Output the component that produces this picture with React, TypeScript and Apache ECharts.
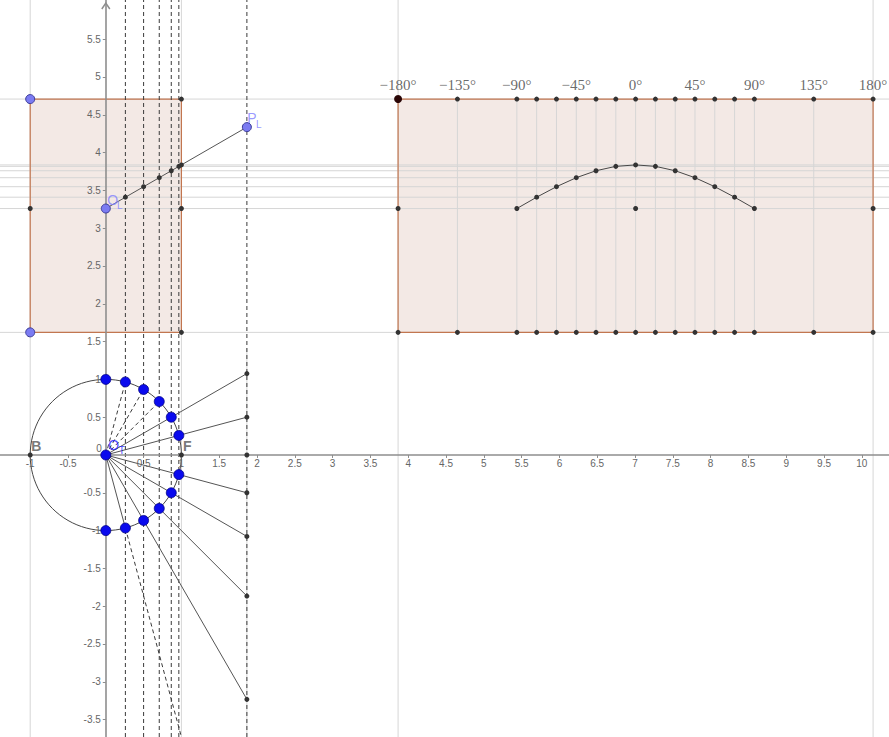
import React, { useEffect, useRef } from "react";
import * as echarts from "echarts";

// Visible window of the drawing plane (equal scale on both axes)
const X_MIN = -1.3995;
const X_MAX = 10.3595;
const Y_MIN = -3.7305;
const Y_MAX = 6.0185;

// Axis tick labels
const xTickValues = [-1, -0.5, 0.5, 1, 1.5, 2, 2.5, 3, 3.5, 4, 4.5, 5, 5.5, 6, 6.5, 7, 7.5, 8, 8.5, 9, 9.5, 10];
const yTickValues = [-3.5, -3, -2.5, -2, -1.5, -1, -0.5, 0.5, 1, 1.5, 2, 2.5, 3, 3.5, 4, 4.5, 5, 5.5];

// Points on the unit circle every 15° from 90° down to -90°
const circleX = [0, 0.259, 0.5, 0.707, 0.866, 0.966, 1, 0.966, 0.866, 0.707, 0.5, 0.259, 0];
const circleY = [1, 0.966, 0.866, 0.707, 0.5, 0.259, 0, -0.259, -0.5, -0.707, -0.866, -0.966, -1];

// Projection line x = 1.866 and the heights where the rays hit it
const projX = 1.866;
const projY = [1.077, 0.5, 0, -0.5, -1.077, -1.866, -3.232];

// Left frame and the sloped line O_L -> P_L
const frameTop = 4.708;
const frameBottom = 1.622;
const frameMid = 3.26;
const leftFrameX = [-1, 1];
const oL = [0, 3.26];
const pL = [1.866, 4.337];
const slopeX = [0.259, 0.5, 0.707, 0.866, 0.966, 1.0];
const slopeY = [3.41, 3.549, 3.668, 3.76, 3.818, 3.837];

// Right frame: angle columns (degrees) and their x positions
const angleDeg = [-180, -135, -90, -75, -60, -45, -30, -15, 0, 15, 30, 45, 60, 75, 90, 135, 180];
const angleX = [3.866, 4.651, 5.437, 5.699, 5.961, 6.223, 6.484, 6.746, 7.008, 7.27, 7.532, 7.793, 8.055, 8.317, 8.579, 9.364, 10.149];
const degLabelAngles = [-180, -135, -90, -45, 0, 45, 90, 135, 180];
const degLabels = ["\u2212180\u00b0", "\u2212135\u00b0", "\u221290\u00b0", "\u221245\u00b0", "0\u00b0", "45\u00b0", "90\u00b0", "135\u00b0", "180\u00b0"];

// Curve in the right frame, from -90° to 90°
const curveX = [5.437, 5.699, 5.961, 6.223, 6.484, 6.746, 7.008, 7.27, 7.532, 7.793, 8.055, 8.317, 8.579];
const curveY = [3.26, 3.41, 3.549, 3.668, 3.76, 3.818, 3.837, 3.818, 3.76, 3.668, 3.549, 3.41, 3.26];

// Horizontal guide heights that run across the whole plane
const guideY = [frameTop, 3.837, 3.818, 3.76, 3.668, 3.549, 3.41, 3.26, frameBottom];
const guideX = [-1, 1, 3.866, 10.149];
const dashedX = [0.259, 0.5, 0.707, 0.866, 0.966, 1.866];

const AXIS_COLOR = "#8e8e8e";
const GUIDE = "#d6d6d6";
const DARK = "#474747";
const SANS = "Liberation Sans, Arial, sans-serif";

function segRender(style: any) {
  return (_p: any, api: any) => {
    const a = api.coord([api.value(0), api.value(1)]);
    const b = api.coord([api.value(2), api.value(3)]);
    return { type: "line", shape: { x1: a[0], y1: a[1], x2: b[0], y2: b[1] }, style };
  };
}

function rectRender(style: any) {
  return (_p: any, api: any) => {
    const a = api.coord([api.value(0), api.value(3)]);
    const b = api.coord([api.value(2), api.value(1)]);
    return {
      type: "rect",
      shape: { x: a[0], y: a[1], width: b[0] - a[0], height: b[1] - a[1] },
      style,
    };
  };
}

export default function App() {
  const ref = useRef<HTMLDivElement>(null);

  useEffect(() => {
    if (!ref.current) return;
    const chart = echarts.init(ref.current, null, { renderer: "svg" });

    const frames = [
      [leftFrameX[0], frameBottom, leftFrameX[1], frameTop],
      [angleX[0], frameBottom, angleX[angleX.length - 1], frameTop],
    ];

    const guides: number[][] = [];
    guideY.forEach((y) => guides.push([X_MIN, y, X_MAX, y]));
    guideX.forEach((x) => guides.push([x, Y_MIN, x, Y_MAX]));
    angleX.slice(1, -1).forEach((x) => guides.push([x, frameBottom, x, frameTop]));
    guides.push([projX, 1.415, projX, Y_MIN]);

    const dashed: number[][] = [];
    dashedX.forEach((x) => dashed.push([x, Y_MIN, x, Y_MAX]));
    [1, 2, 3].forEach((i) => dashed.push([0, 0, circleX[i], circleY[i]]));
    dashed.push([circleX[11], circleY[11], 1.0, Y_MIN]);

    const solid: number[][] = [];
    projY.forEach((y) => {
      if (y !== 0) solid.push([0, 0, projX, y]);
    });
    solid.push([0, 0, circleX[11], circleY[11]]);
    solid.push([oL[0], oL[1], pL[0], pL[1]]);

    const blackPts: number[][] = [];
    angleX.forEach((x, i) => {
      if (i > 0) blackPts.push([x, frameTop]);
      blackPts.push([x, frameBottom]);
    });
    blackPts.push([angleX[0], frameMid], [angleX[8], frameMid], [angleX[16], frameMid]);
    curveX.forEach((x, i) => blackPts.push([x, curveY[i]]));
    blackPts.push([1, frameTop], [1, frameMid], [1, frameBottom], [-1, frameMid]);
    slopeX.forEach((x, i) => blackPts.push([x, slopeY[i]]));
    projY.forEach((y) => blackPts.push([projX, y]));
    blackPts.push([-1, 0], [1, 0]);

    const bluePts: number[][] = circleX
      .map((x, i) => [x, circleY[i]])
      .filter((_, i) => i !== 6);
    bluePts.push([0, 0]);

    const purplePts = [[-1, frameTop], [-1, frameBottom], oL, pL];

    const degData = degLabelAngles.map((a, i) => ({
      value: [angleX[angleDeg.indexOf(a)], frameTop],
      label: { formatter: degLabels[i] },
    }));

    // point names: main letter and subscript are separate labels
    const nameMain = [
      { value: [-1, 0], label: { formatter: "B", offset: [6, -9], color: "#555", fontWeight: "bold" } },
      { value: [1, 0], label: { formatter: "F", offset: [6, -9], color: "#555", fontWeight: "bold" } },
      { value: [0, 0], label: { formatter: "O", offset: [8, -10], color: "#1a1aff" } },
      { value: oL, label: { formatter: "O", offset: [7, -9], color: "#8080ff" } },
      { value: pL, label: { formatter: "P", offset: [5, -9], color: "#8080ff" } },
    ];
    const nameSub = [
      { value: [0, 0], label: { formatter: "T", offset: [16, -4], color: "#1a1aff" } },
      { value: oL, label: { formatter: "L", offset: [14, -3], color: "#8080ff" } },
      { value: pL, label: { formatter: "L", offset: [12, -3], color: "#8080ff" } },
    ];

    const axisLabelStyle = { color: "#666", fontSize: 10, fontFamily: SANS };

    const option: any = {
      animation: false,
      backgroundColor: "#ffffff",
      grid: { left: 0, right: 0, top: 0, bottom: 0, containLabel: false, outerBoundsMode: "none" },
      xAxis: {
        type: "value",
        z: 5,
        min: X_MIN,
        max: X_MAX,
        position: "bottom",
        offset: 0,
        axisLine: { show: true, onZero: false, lineStyle: { color: AXIS_COLOR, width: 1.6 } },
        axisTick: { show: true, customValues: xTickValues, length: 3, lineStyle: { color: AXIS_COLOR } },
        axisLabel: { ...axisLabelStyle, customValues: xTickValues, margin: 4 },
        splitLine: { show: false },
      },
      yAxis: {
        type: "value",
        z: 5,
        min: Y_MIN,
        max: Y_MAX,
        position: "left",
        offset: 0,
        axisLine: { show: true, onZero: false, lineStyle: { color: AXIS_COLOR, width: 1.6 } },
        axisTick: { show: true, customValues: yTickValues, length: 3, lineStyle: { color: AXIS_COLOR } },
        axisLabel: { ...axisLabelStyle, customValues: yTickValues, margin: 5 },
        splitLine: { show: false },
      },
      series: [
        {
          type: "custom",
          name: "frame fill",
          z: 1,
          silent: true,
          renderItem: rectRender({ fill: "#f3e9e5", stroke: "none" }),
          data: frames,
        },
        {
          type: "custom",
          name: "guides",
          z: 2,
          silent: true,
          renderItem: segRender({ stroke: GUIDE, lineWidth: 1 }),
          data: guides,
        },
        {
          type: "custom",
          name: "frame border",
          z: 3,
          silent: true,
          renderItem: rectRender({ fill: "none", stroke: "#c27650", lineWidth: 1.2 }),
          data: frames,
        },
        {
          type: "custom",
          name: "circle",
          z: 4,
          silent: true,
          renderItem: (_p: any, api: any) => {
            const c = api.coord([api.value(0), api.value(1)]);
            const r = api.size([api.value(2), api.value(2)])[0];
            return { type: "circle", shape: { cx: c[0], cy: c[1], r }, style: { fill: "none", stroke: DARK, lineWidth: 1 } };
          },
          data: [[0, 0, 1]],
        },
        {
          type: "custom",
          name: "dashed",
          z: 4,
          silent: true,
          renderItem: segRender({ stroke: "#3a3a3a", lineWidth: 1, lineDash: [4, 3] }),
          data: dashed,
        },
        {
          type: "custom",
          name: "rays",
          z: 4,
          silent: true,
          renderItem: segRender({ stroke: "#555", lineWidth: 1 }),
          data: solid,
        },
        {
          type: "line",
          name: "curve",
          z: 6,
          symbol: "none",
          silent: true,
          lineStyle: { color: DARK, width: 1 },
          data: curveX.map((x, i) => [x, curveY[i]]),
        },
        {
          type: "scatter",
          name: "points",
          z: 7,
          symbolSize: 5,
          silent: true,
          itemStyle: { color: "#333", opacity: 1 },
          data: blackPts,
        },
        {
          type: "scatter",
          name: "start",
          z: 7,
          symbolSize: 8,
          silent: true,
          itemStyle: { color: "#2a0606", opacity: 1 },
          data: [[angleX[0], frameTop]],
        },
        {
          type: "scatter",
          name: "circle points",
          z: 7,
          symbolSize: 10,
          silent: true,
          itemStyle: { color: "#0a0aee", borderColor: "#000088", borderWidth: 0.8, opacity: 1 },
          data: bluePts,
        },
        {
          type: "scatter",
          name: "free points",
          z: 7,
          symbolSize: 9,
          silent: true,
          itemStyle: { color: "#7b7bf2", borderColor: "#3d3d99", borderWidth: 1, opacity: 1 },
          data: purplePts,
        },
        {
          type: "scatter",
          name: "degrees",
          z: 8,
          symbolSize: 0,
          silent: true,
          label: {
            show: true,
            position: "inside",
            offset: [0, -14],
            color: "#444",
            fontSize: 15,
            fontFamily: "Liberation Serif, DejaVu Serif, serif",
          },
          data: degData,
        },
        {
          type: "scatter",
          name: "names",
          z: 8,
          symbolSize: 0,
          silent: true,
          label: { show: true, position: "inside", fontSize: 14, fontFamily: SANS },
          data: nameMain,
        },
        {
          type: "scatter",
          name: "name subscripts",
          z: 8,
          symbolSize: 0,
          silent: true,
          label: { show: true, position: "inside", fontSize: 10, fontFamily: SANS },
          data: nameSub,
        },
      ],
    };

    chart.setOption(option);

    // Move both axes (line, ticks and labels) onto the origin
    const o = chart.convertToPixel({ gridIndex: 0 }, [0, 0]) as number[];
    const corner = chart.convertToPixel({ gridIndex: 0 }, [X_MIN, Y_MIN]) as number[];
    const top = chart.convertToPixel({ gridIndex: 0 }, [0, Y_MAX]) as number[];
    chart.setOption({
      xAxis: { offset: -(corner[1] - o[1]) },
      yAxis: { offset: -(o[0] - corner[0]) },
      graphic: [
        {
          type: "text",
          z: 9,
          x: o[0] - 4,
          y: o[1] - 1,
          style: {
            text: "0",
            fill: "#666",
            fontSize: 10,
            fontFamily: SANS,
            align: "right",
            verticalAlign: "bottom",
          },
        },
        {
          type: "polyline",
          z: 9,
          shape: { points: [[o[0] - 4, top[1] + 9], [o[0], top[1] + 3], [o[0] + 4, top[1] + 9]] },
          style: { stroke: AXIS_COLOR, lineWidth: 1.5, fill: "none" },
        },
      ],
    });

    return () => chart.dispose();
  }, []);

  return (
    <div
      ref={ref}
      style={{ position: "fixed", left: 0, top: 0, width: 889, height: 737, background: "#fff" }}
    />
  );
}
